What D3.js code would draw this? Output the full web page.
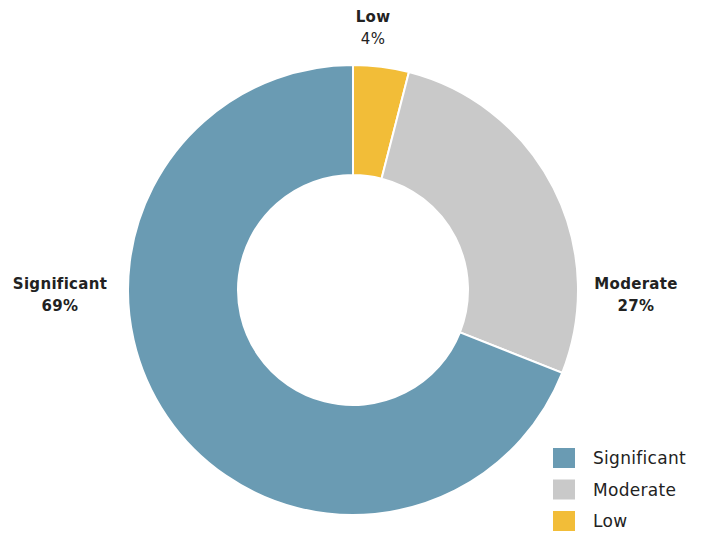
<!DOCTYPE html>
<html>
<head>
<meta charset="utf-8">
<script src="https://cdn.jsdelivr.net/npm/d3@7"></script>
<style>
  html, body { margin: 0; padding: 0; background: #fff; }
  svg text { font-family: "DejaVu Sans", "Noto Sans", sans-serif; fill: #222; }
</style>
</head>
<body>
<svg id="chart" width="703" height="533"></svg>
<script>
// Share of responses by level
const categories = ["Low", "Moderate", "Significant"];
const values = [4, 27, 69];
const colors = ["#f2bd38", "#c9c9c9", "#6a9bb3"];
const legendOrder = ["Significant", "Moderate", "Low"];

const svg = d3.select("#chart");
const cx = 353, cy = 290, outerR = 225, innerR = 115;

const color = d3.scaleOrdinal().domain(categories).range(colors);

const pie = d3.pie().sort(null).value(d => d.value);
const arcs = pie(categories.map((c, i) => ({ name: c, value: values[i] })));
const arc = d3.arc().innerRadius(innerR).outerRadius(outerR);

const g = svg.append("g").attr("transform", `translate(${cx},${cy})`);
g.selectAll("path")
  .data(arcs)
  .join("path")
  .attr("d", arc)
  .attr("fill", d => color(d.data.name))
  .attr("stroke", "#fff")
  .attr("stroke-width", 2);

// Slice labels placed outside the ring
const labelPos = {
  "Low": [373, 22],
  "Moderate": [636, 289],
  "Significant": [60, 289]
};
arcs.forEach(d => {
  const [x, y] = labelPos[d.data.name];
  const t = svg.append("text")
    .attr("x", x).attr("y", y)
    .attr("text-anchor", "middle")
    .style("font-size", "15px")
    .style("letter-spacing", "0.3px");
  t.append("tspan").attr("x", x).attr("font-weight", "bold").text(d.data.name);
  t.append("tspan").attr("x", x).attr("dy", 22)
    .attr("font-weight", d.data.name === "Low" ? "normal" : "bold")
    .text(d.data.value + "%");
});

// Legend
const legend = svg.append("g").attr("transform", "translate(553,448)");
legendOrder.forEach((name, i) => {
  const row = legend.append("g").attr("transform", `translate(0,${i * 31.5})`);
  row.append("rect").attr("width", 22).attr("height", 20).attr("fill", color(name));
  row.append("text").attr("x", 40).attr("y", 16)
    .style("font-size", "17px")
    .style("letter-spacing", "0.3px")
    .text(name);
});
</script>
</body>
</html>
